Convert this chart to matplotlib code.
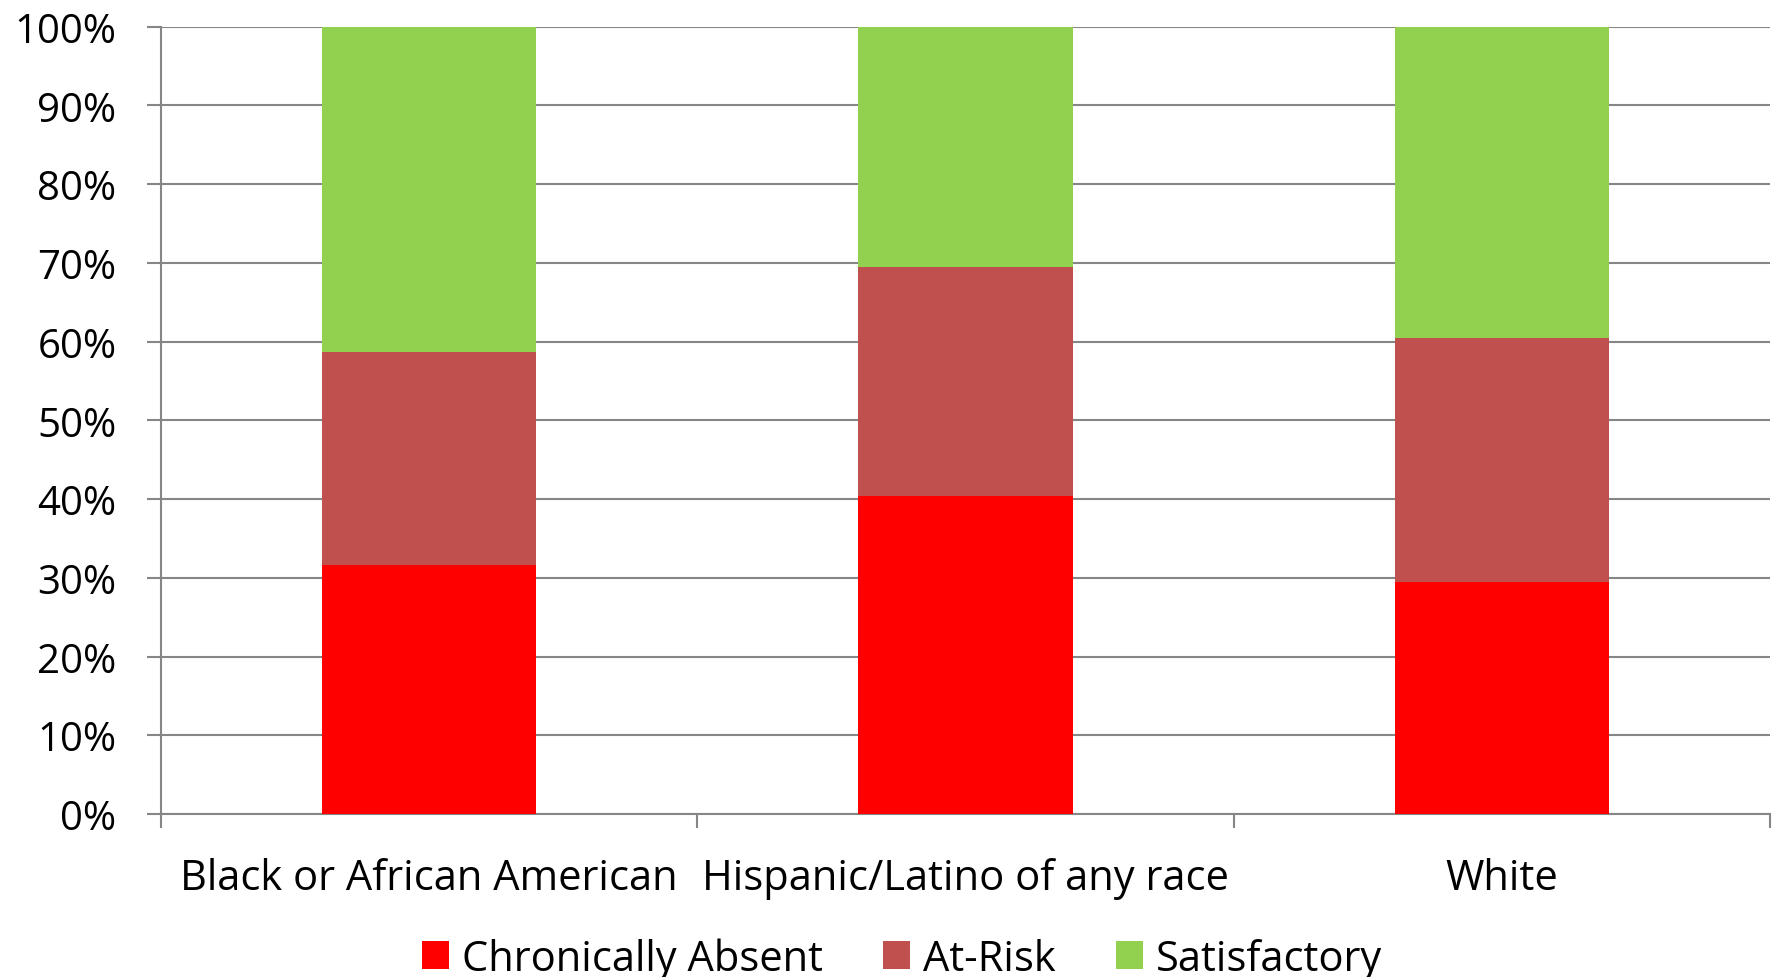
import numpy as np
import matplotlib.pyplot as plt
from matplotlib.ticker import FixedLocator, PercentFormatter

# Daten
categories = ['Black or African American', 'Hispanic/Latino of any race', 'White']
chronic = [31.6, 40.4, 29.5]
at_risk = [27.1, 29.1, 30.9]
satisfactory = [41.3, 30.5, 39.6]

series_names = ['Chronically Absent', 'At-Risk', 'Satisfactory']
colors = ['#FF0000', '#C0504D', '#92D050']

plt.rcParams['font.family'] = ['Open Sans', 'DejaVu Sans']

fig = plt.figure(figsize=(17.79, 9.78), dpi=100)
ax = fig.add_axes([0.0905, 0.1667, 0.9045, 0.805])

x = np.arange(len(categories))
bottom = np.zeros(len(categories))
for vals, name, col in zip([chronic, at_risk, satisfactory], series_names, colors):
    ax.bar(x, vals, width=0.4, bottom=bottom, color=col, label=name, zorder=3)
    bottom += np.array(vals)

ax.set_xlim(-0.5, len(categories) - 0.5)
ax.set_ylim(0, 100)
ax.yaxis.set_major_locator(FixedLocator(np.arange(0, 101, 10)))
ax.yaxis.set_major_formatter(PercentFormatter(decimals=0))
ax.grid(axis='y', color='#868686', linewidth=1.5, zorder=0)

# Kategorie-Trennstriche als Ticks, Labels in der Mitte
ax.set_xticks(np.arange(-0.5, len(categories)), minor=False)
ax.set_xticklabels([])
ax.set_xticks(x, minor=True)
ax.set_xticklabels(categories, minor=True)
ax.tick_params(axis='x', which='minor', length=0, labelsize=30, pad=31)
ax.tick_params(axis='x', which='major', length=10, width=1.5, color='#868686', direction='out')
ax.tick_params(axis='y', length=10, width=1.5, color='#868686', labelsize=29, pad=22)

for s in ['top', 'right']:
    ax.spines[s].set_visible(False)
for s in ['left', 'bottom']:
    ax.spines[s].set_color('#868686')
    ax.spines[s].set_linewidth(1.5)

fig.legend(*ax.get_legend_handles_labels(), loc='center', bbox_to_anchor=(0.507, 0.019),
           ncol=3, frameon=False, fontsize=30, handlelength=0.65, handleheight=0.65,
           handletextpad=0.31, columnspacing=1.44, borderpad=0)

fig.savefig('out.png', dpi=100)
